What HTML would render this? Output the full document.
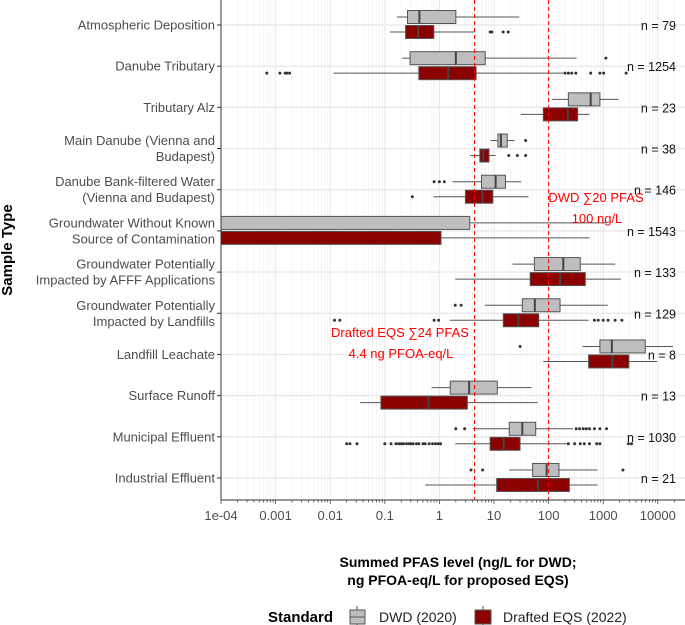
<!DOCTYPE html>
<html><head><meta charset="utf-8"><style>
body{margin:0;background:#fff;}
svg{display:block;font-family:"Liberation Sans",sans-serif;}
</style></head><body>
<svg id="chart" width="685" height="625">
<defs><clipPath id="pc"><rect x="221" y="0" width="464" height="500"/></clipPath></defs>
<g id="grid"></g><g id="marks" clip-path="url(#pc)"></g><g id="axes"></g>
<text x="12" y="250" transform="rotate(-90 12 250)" text-anchor="middle" font-size="15" font-weight="bold">Sample Type</text>
<text x="458" y="567" text-anchor="middle" font-size="14" font-weight="bold">Summed PFAS level (ng/L for DWD;</text>
<text x="458" y="585" text-anchor="middle" font-size="14" font-weight="bold">ng PFOA-eq/L for proposed EQS)</text>
<g>
<text x="268" y="622" font-size="15" font-weight="bold">Standard</text>
<line x1="357" y1="606" x2="357" y2="628" stroke="#555"/>
<rect x="350" y="610" width="15" height="14" fill="#bebebe" stroke="#555"/>
<line x1="350" y1="617" x2="365" y2="617" stroke="#555"/>
<text x="379" y="622" font-size="14" fill="#222">DWD (2020)</text>
<line x1="483" y1="606" x2="483" y2="628" stroke="#555"/>
<rect x="475" y="610" width="16" height="14" fill="#8b0000" stroke="#555"/>
<text x="503" y="622" font-size="14" fill="#222">Drafted EQS (2022)</text>
</g>
</svg>
<script>
const categories=[["Atmospheric Deposition"],["Danube Tributary"],["Tributary Alz"],["Main Danube (Vienna and","Budapest)"],["Danube Bank-filtered Water","(Vienna and Budapest)"],["Groundwater Without Known","Source of Contamination"],["Groundwater Potentially","Impacted by AFFF Applications"],["Groundwater Potentially","Impacted by Landfills"],["Landfill Leachate"],["Surface Runoff"],["Municipal Effluent"],["Industrial Effluent"]];
const counts=["n = 79","n = 1254","n = 23","n = 38","n = 146","n = 1543","n = 133","n = 129","n = 8","n = 13","n = 1030","n = 21"];
// [lo,q1,med,q3,hi]
const dwdStats=[[0.166,0.26,0.43,2.0,29],[0.21,0.29,2.0,6.9,324],[115,230,590,870,1900],[8.7,11.8,13.4,17.5,23.8],[1.74,5.9,10.7,16.2,31.5],[1e-7,1e-6,1e-5,3.6,1150],[21.8,55,186,380,1660],[6.8,33,56,162,1210],[420,870,1440,5900,19000],[0.72,1.58,3.5,11.5,49],[4.1,19,33,58,280],[19,51,92,155,790]];
const eqsStats=[[0.125,0.24,0.41,0.79,4.4],[0.0115,0.42,1.45,4.7,186],[31,80,225,340,560],[3.7,5.5,6.4,8.1,10.7],[0.78,3.0,6.2,9.5,43],[1e-7,1e-6,1e-5,1.07,560],[1.95,46,162,470,2100],[1.55,14.8,28,66,540],[80,540,1480,2950,9800],[0.035,0.085,0.63,3.25,63],[1.95,8.5,15,30,215],[0.55,11.2,64,240,790]];
const dwdOut=[[],[1120],[],[38],[0.8,1.0,1.23],[],[],[1.95,2.5],[30],[],[2.0,2.9,320,370,430,490,560,690,870,1150],[3.8,6.2,2300]];
const eqsOut=[[8.5,9.1,14.7,18.2],[0.00069,0.0012,0.0015,0.0016,0.0018,200,230,265,315,590,870,1020,2630],[],[18.6,26.8,38],[0.32],[],[],[0.012,0.015,0.8,0.97,690,810,1000,1230,1650,2200],[],[],[0.020,0.023,0.031,0.1,0.13,0.16,0.18,0.2,0.22,0.25,0.28,0.3,0.33,0.38,0.42,0.5,0.55,0.65,0.75,0.85,0.95,1.05,230,300,380,450,560,760,870,2900,3300],[]];
const tickVals=[1e-4,1e-3,1e-2,0.1,1,10,100,1000,10000];
const tickLabels=["1e-04","0.001","0.01","0.1","1","10","100","1000","10000"];
const refLines=[4.4,100];

const NS="http://www.w3.org/2000/svg";
const xs=v=>221+(Math.log10(v)+4)*54.6;
const ys=i=>25+i*41.18;
function mk(p,tag,at){const e=document.createElementNS(NS,tag);for(const k in at)e.setAttribute(k,at[k]);p.appendChild(e);return e;}
const grid=document.getElementById('grid'),marks=document.getElementById('marks'),axes=document.getElementById('axes');
for(let d=-4;d<=4;d++){for(let m=1;m<10;m++){const v=m*Math.pow(10,d);if(v>25000)break;const x=xs(v);
 const l=mk(grid,'line',{x1:x,x2:x,y1:0,y2:500,stroke:m==1?'#e6e6e6':'#f0f0f0','stroke-width':m==1?1:0.6});
 
 const t=mk(axes,'line',{x1:x,x2:x,y1:500,y2:m==1?504:502.5,stroke:'#333','stroke-width':0.7});
 }}
categories.forEach((c,i)=>{const y=ys(i);
 const g=mk(grid,'line',{x1:221,x2:685,y1:y,y2:y,stroke:'#e6e6e6','stroke-width':1.2});
 
 const tk=mk(axes,'line',{x1:217,x2:221,y1:y,y2:y,stroke:'#333'});
 
 const t=mk(axes,'text',{x:215,'text-anchor':'end','font-size':13,fill:'#4d4d4d'});
 
 c.forEach((s,j)=>{const ts=mk(t,'tspan',{x:215,y:y+4.5+(j-(c.length-1)/2)*16});ts.textContent=s;});
 const n=mk(axes,'text',{x:676,y:y+5,'text-anchor':'end','font-size':12.5,fill:'#111'});
 n.textContent=counts[i];
});
function box(st,out,y,fill,name){const [lo,q1,md,q3,hi]=st;const h=13;
 const w1=mk(marks,'line',{x1:xs(lo),x2:xs(q1),y1:y,y2:y,stroke:'#555'});
 const w2=mk(marks,'line',{x1:xs(q3),x2:xs(hi),y1:y,y2:y,stroke:'#555'});
 const r=mk(marks,'rect',{x:xs(q1),y:y-h/2,width:xs(q3)-xs(q1),height:h,fill:fill,stroke:'#555','stroke-width':1});
 
 const m=mk(marks,'line',{x1:xs(md),x2:xs(md),y1:y-h/2,y2:y+h/2,stroke:'#444','stroke-width':2});
 
 out.forEach(v=>{const c=mk(marks,'circle',{cx:xs(v),cy:y,r:1.5,fill:'#333'});});}
categories.forEach((c,i)=>{box(dwdStats[i],dwdOut[i],ys(i)-8,'#bebebe','dwd');box(eqsStats[i],eqsOut[i],ys(i)+7,'#8b0000','eqs');});
refLines.forEach(v=>{const l=mk(marks,'line',{x1:xs(v),x2:xs(v),y1:0,y2:500,stroke:'#ff0000','stroke-dasharray':'4,3','stroke-width':1});
 });
const ann=[["DWD ∑20 PFAS",596,202],["100 ng/L",597,223],["Drafted EQS ∑24 PFAS",400,337],["4.4 ng PFOA-eq/L",401,358]];
ann.forEach(a=>{const t=mk(axes,'text',{x:a[1],y:a[2],'text-anchor':'middle','font-size':13,fill:'#ff0000'});
 t.textContent=a[0];});
const ya=mk(axes,'line',{x1:221,x2:221,y1:0,y2:500,stroke:'#333'});
const xa=mk(axes,'line',{x1:221,x2:685,y1:500,y2:500,stroke:'#333'});
tickVals.forEach((v,i)=>{const t=mk(axes,'text',{x:xs(v),y:520,'text-anchor':'middle','font-size':13,fill:'#4d4d4d'});
 t.textContent=tickLabels[i];});
</script>
</body></html>
